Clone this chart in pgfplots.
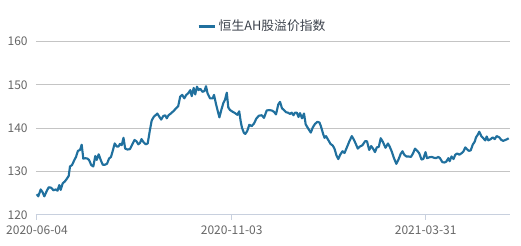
\documentclass[border=0pt]{standalone}
\usepackage{pgfplots}
\pgfplotsset{compat=1.18}
\usepackage{fontspec}
\setmainfont{Noto Sans CJK SC}
\definecolor{linec}{RGB}{32,112,158}
\definecolor{gridc}{RGB}{196,196,196}
\definecolor{axc}{RGB}{200,208,222}
\definecolor{tickc}{RGB}{102,102,102}
\definecolor{legc}{RGB}{60,66,76}
\begin{document}
\begin{tikzpicture}
\path[use as bounding box] (0,0) rectangle (390.75pt,184.5pt);
\begin{axis}[
  at={(27pt,23.25pt)}, anchor=south west,
  scale only axis, width=355.5pt, height=130.1pt,
  xmin=36, xmax=510, ymin=120, ymax=160,
  ytick={120,130,140,150,160},
  xtick={37,231.7,425.7},
  xticklabels={2020-06-04,2020-11-03,2021-03-31},
  axis x line*=bottom, axis y line*=left,
  y axis line style={draw=none},
  ytick style={draw=none},
  x axis line style={draw=axc, line width=0.75pt, -},
  xtick style={draw=axc, line width=0.75pt},
  tick align=outside, major tick length=3.75pt,
  ymajorgrids, grid style={draw=gridc, line width=0.75pt},
  /pgf/number format/assume math mode=true,
  tick label style={font=\fontsize{9}{10}\selectfont, text=tickc},
  yticklabel style={xshift=1pt},
  xticklabel style={yshift=-1pt},
  legend style={at={(0.478,1)}, anchor=center, yshift=11.6pt, draw=none, fill=none,
    font=\fontsize{9.6}{11}\selectfont, text=legc, inner sep=0pt,
    legend cell align=left},
  legend image code/.code={\draw[#1, line width=2.25pt] (0pt,0pt) -- (12pt,0pt);},
]
\addplot[color=linec, line width=1.6pt, line join=round] table {
36.7 124.8
38.3 124.3
40.7 125.9
42.7 125.2
44.3 124.3
46.5 125.4
48.7 126.4
51 126.3
53.5 125.7
56 125.9
57.5 125.6
59.3 126.9
60.7 125.8
62.7 127.3
64.7 127.7
66.7 128.3
68.7 129.0
70 131.2
72 131.5
74 132.5
76 133.4
78 134.8
80 135.0
81.7 136.2
83.3 133.0
85.5 133.1
87.5 133.0
89 132.7
91.3 131.5
93.3 131.2
95.3 133.6
96.7 132.7
98.7 134.0
100.7 132.7
102.7 131.6
105 131.6
107 131.8
109 133.0
111 133.4
113 135.0
114.7 136.5
116.7 135.8
118.5 135.8
120 136.4
121.7 136.1
123.5 137.8
125.2 135.3
127.5 135.1
130 135.2
132.5 136.4
134.5 137.3
136.5 137.0
138.3 136.3
140 136.6
141.5 137.5
143.5 136.8
145.7 136.3
147.7 136.5
149.7 139.3
151.7 141.8
153.7 142.6
155.5 143.0
157.3 143.4
159.2 142.7
161.2 142.0
163.2 142.8
165.2 143.0
166.8 142.3
168.5 143.0
170.8 143.4
173.2 143.9
175.7 144.5
178.2 145.1
180.2 147.3
182.2 147.7
184.3 146.9
186.3 147.7
188.3 148.1
190.3 148.8
191.7 147.4
193.7 149.3
195.2 147.8
197 149.6
198.5 148.8
200.3 149.1
202.5 148.4
204.5 148.6
206 149.7
207.5 148.1
210 146.9
212.7 146.9
214 147.7
216 145.6
218.3 143.5
219.4 142.5
221.3 144.2
223.3 145.8
225 146.6
226.8 148.2
228.3 144.8
230 144.2
232.7 143.8
235 143.5
237.3 143.1
239.2 143.9
240.7 141.6
242 140.1
244 138.9
245.3 138.7
247.3 139.4
249.3 140.8
251.7 140.5
254 141.1
256.5 142.3
259 142.9
261.7 143.0
264 142.4
266.7 144.1
269 144.2
271.7 144.1
274 143.8
276 143.2
278.3 145.5
280 146.1
282 144.6
284 144.2
286 143.7
288 143.6
290 143.3
291.7 143.6
293.5 143.0
295 143.6
296.8 143.6
298.5 142.6
300 143.5
302 142.3
304 143.4
305.7 140.9
308.3 139.9
310.8 139.0
312.8 140.2
315 141.0
317.5 141.5
319.5 141.3
321 140.4
323 138.8
324.5 137.8
326 138.2
328 137.4
330.5 136.4
332.8 136.0
334.5 135.3
336.5 133.7
338.3 132.9
340.2 133.9
342.5 134.7
344.5 134.3
346.7 135.5
349.2 136.9
351.8 138.2
353.8 137.4
355.8 136.4
357.8 135.3
360 135.8
362.5 136.1
365 137.0
367 137.0
369.2 135.0
371.2 135.9
373.3 135.2
375 134.5
376.8 135.6
378.8 135.7
380.7 137.7
382.8 136.9
385.5 135.5
388 136.5
390 135.6
391.8 134.6
394 133.1
396.3 131.8
398.3 132.7
400.7 134.1
402.5 134.7
404.3 133.9
406.3 133.5
408.5 133.5
411 133.4
413 134.2
415 135.3
417.3 134.8
419.3 134.2
421.5 132.8
423.3 132.9
425.5 134.5
427 133.1
429.3 133.3
431.7 133.4
434 133.2
436 133.1
438.3 133.4
440 133.1
442.3 132.2
444.3 132.1
446.3 132.3
448.3 133.1
449.7 132.4
451.5 133.5
453.5 132.9
455.3 133.9
457.3 134.2
459.3 133.9
461.3 134.2
463.3 134.6
465.3 135.6
466.8 135.2
468.8 134.8
470.7 134.9
472.7 136.2
474.7 136.9
476 137.9
477.7 138.5
479.3 139.2
481.3 138.2
483.3 137.7
485.3 137.2
486.7 138.1
488.3 137.2
490.7 137.5
492.7 137.9
494.7 137.5
496.7 138.2
499.3 137.9
501.3 137.3
503.3 137.1
505.3 137.3
507.3 137.5
508.7 137.7
};
\addlegendentry{恒生AH股溢价指数}
\end{axis}
\end{tikzpicture}
\end{document}
